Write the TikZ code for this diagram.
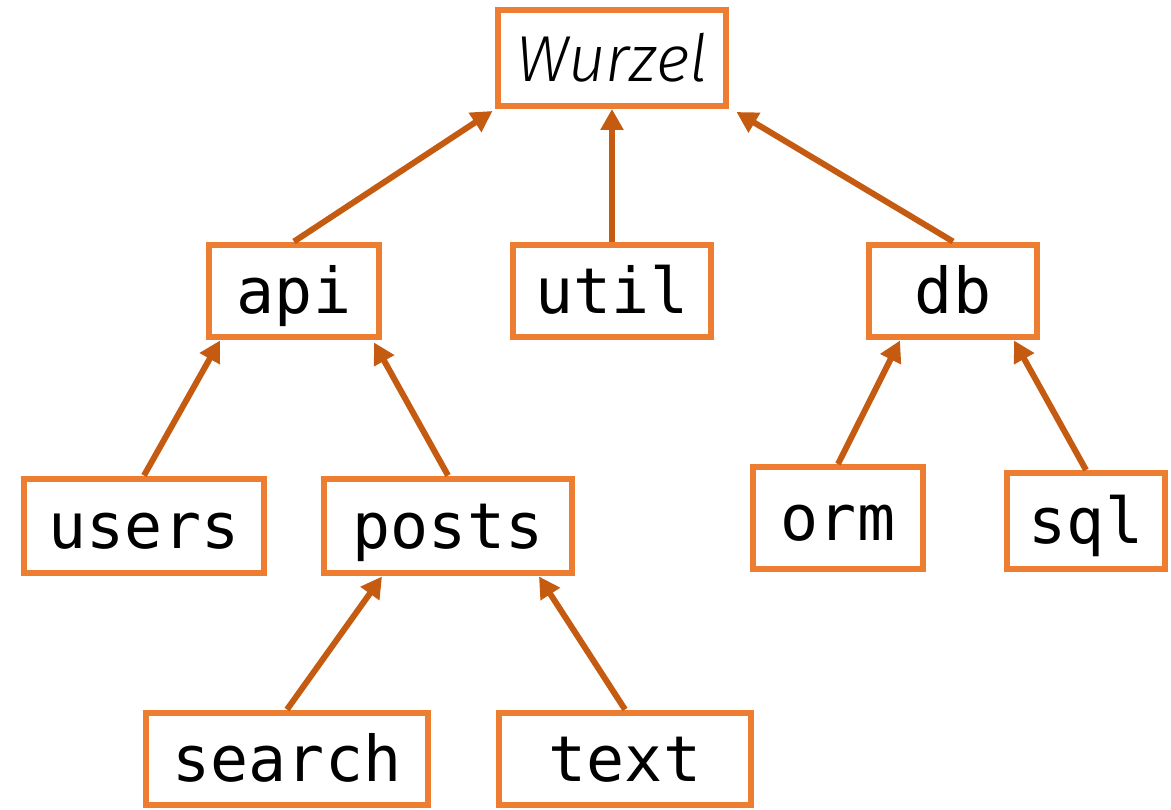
\documentclass[tikz,border=0pt]{standalone}
\usepackage{fontspec}
\usetikzlibrary{arrows.meta,calc}
\newfontfamily\treemono{DejaVu Sans Mono}
\newfontfamily\treesans{Fira Sans Light}
\definecolor{boxorange}{HTML}{ED7D31}
\definecolor{arroworange}{HTML}{C55A11}
\tikzset{
	modbox/.style={draw=boxorange, line width=0.12cm, fill=white, inner sep=0pt,
		minimum height=1.86cm, text height=1.2cm, text depth=0.3cm,
		font=\treemono\fontsize{36}{36}\selectfont},
	uplink/.style={draw=arroworange, line width=0.12cm,
		-{Triangle[length=0.42cm, width=0.44cm]}}
}

\begin{document}
\begin{tikzpicture}[x=0.02cm, y=-0.02cm]
		%%%%% START %%%%%
		\useasboundingbox (0, 0) rectangle (1171, 810);
		
		\node[modbox, minimum width=4.58cm, minimum height=1.92cm, text height=, text depth=, font=\treesans\itshape\fontsize{37}{37}\selectfont] (wurzel) at (612, 58) {Wurzel};
		
		\node[modbox, minimum width=3.4cm] (api) at (294, 291) {api};
		\node[modbox, minimum width=3.96cm] (util) at (612, 291) {util};
		\node[modbox, minimum width=3.36cm] (db) at (953, 291) {db};
		
		\node[modbox, minimum width=4.82cm, minimum height=1.9cm] (users) at (144, 526) {users};
		\node[modbox, minimum width=4.96cm, minimum height=1.9cm] (posts) at (448, 526) {posts};
		\node[modbox, minimum width=3.4cm, minimum height=2.04cm] (orm) at (838, 518) {orm};
		\node[modbox, minimum width=3.16cm, minimum height=1.92cm] (sql) at (1086, 521) {sql};
		
		\node[modbox, minimum width=5.66cm] (search) at (287, 759) {search};
		\node[modbox, minimum width=5.04cm] (text) at (625, 759) {text};
		
		% arrows point up to the parent
		\draw[uplink] (api.north) -- ($(wurzel.south west)+(-2, 2)$);
		\draw[uplink] (util.north) -- (wurzel.south);
		\draw[uplink] (db.north) -- ($(wurzel.south east)+(7, 3)$);
		
		\draw[uplink] (users.north) -- ($(api.south west)+(14, 0)$);
		\draw[uplink] (posts.north) -- ($(api.south east)+(-8, 2)$);
		\draw[uplink] (orm.north) -- ($(db.south west)+(34, 0)$);
		\draw[uplink] (sql.north) -- ($(db.south east)+(-26, 0)$);
		
		\draw[uplink] (search.north) -- ($(posts.south west)+(61, 0)$);
		\draw[uplink] (text.north) -- ($(posts.south east)+(-36, 0)$);
		%%%%% END %%%%%
\end{tikzpicture}
\end{document}
